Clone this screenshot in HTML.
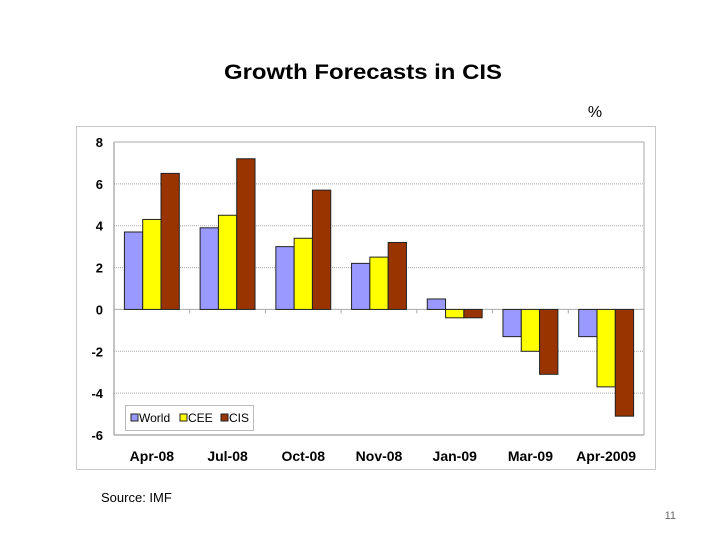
<!DOCTYPE html>
<html><head><meta charset="utf-8"><style>
body{margin:0;background:#fff;width:720px;height:540px;overflow:hidden;font-family:"Liberation Sans",Arial,sans-serif}
</style></head><body>
<svg width="720" height="540" font-family="Liberation Sans, Arial, sans-serif">
<text x="224" y="79" font-size="21" font-weight="bold" textLength="278" lengthAdjust="spacingAndGlyphs">Growth Forecasts in CIS</text>
<text x="595" y="117" font-size="16" text-anchor="middle">%</text>
<rect x="76.5" y="126.5" width="579" height="343" fill="#fff" stroke="#c8c8c8"/>
<g id="plot"></g>
<text x="101" y="502" font-size="13">Source: IMF</text>
<text x="676" y="519" font-size="11" fill="#666" text-anchor="end">11</text>
</svg>
<script>
const categories=["Apr-08","Jul-08","Oct-08","Nov-08","Jan-09","Mar-09","Apr-2009"];
const world=[3.7,3.9,3.0,2.2,0.5,-1.3,-1.3];
const cee=[4.3,4.5,3.4,2.5,-0.4,-2.0,-3.7];
const cis=[6.5,7.2,5.7,3.2,-0.4,-3.1,-5.1];
const yTicks=[8,6,4,2,0,-2,-4,-6];
const seriesNames=["World","CEE","CIS"];
const NS="http://www.w3.org/2000/svg";
const g=document.getElementById('plot');
const L=114,R=644,T=142,B=435,ymin=-6,ymax=8;
const y=v=>B-(v-ymin)/(ymax-ymin)*(B-T);
const bw=(R-L)/categories.length;
const x=i=>L+bw*i;
function mk(t,a){const e=document.createElementNS(NS,t);for(const k in a)e.setAttribute(k,a[k]);g.appendChild(e);return e;}
yTicks.forEach(v=>{
 if(v!==ymin&&v!==0){const l=mk('line',{x1:L,x2:R,y1:y(v),y2:y(v),stroke:'#aaa','stroke-dasharray':'1,1'});
 
 }
 const t=mk('text',{x:L-11,y:y(v)+5,'font-size':13,'font-weight':'bold','text-anchor':'end'});t.textContent=v;
 
 
});
const ax=mk('line',{x1:L,x2:L,y1:T,y2:B,stroke:'#888'});


const bx=mk('line',{x1:L,x2:R,y1:B,y2:B,stroke:'#888'});


const rx=mk('line',{x1:R,x2:R,y1:T,y2:B,stroke:'#aaa'});


const tx=mk('line',{x1:L,x2:R,y1:T,y2:T,stroke:'#aaa'});


const zero=mk('line',{x1:L,x2:R,y1:y(0),y2:y(0),stroke:'#aaa'});


const series=[world,cee,cis],colors=['#9999ff','#ffff00','#993300'];
const barW=18.3;
categories.forEach((c,i)=>{
 const cx=x(i)+bw/2;
 series.forEach((s,j)=>{
  const v=s[i];const y0=y(Math.max(v,0)),y1=y(Math.min(v,0));
  const r=mk('rect',{x:cx-barW*1.5+barW*j,y:y0,width:barW,height:Math.max(y1-y0,0.5),fill:colors[j],stroke:'#222','stroke-width':1});
  
  
 });
 const t=mk('text',{x:cx,y:461,'font-size':14,'font-weight':'bold','text-anchor':'middle'});t.textContent=c;
 
 
 if(i>0){const tk=mk('line',{x1:x(i),x2:x(i),y1:y(0),y2:y(0)+4,stroke:'#aaa'});
 
 }
});
const lb=mk('rect',{x:125.5,y:405.5,width:128,height:25,fill:'#fff',stroke:'#bbb'});


const lx=[131,180,221];
seriesNames.forEach((n,j)=>{
 const s=mk('rect',{x:lx[j],y:414,width:7,height:7,fill:colors[j],stroke:'#222'});
 
 
 const t=mk('text',{x:lx[j]+8,y:422,'font-size':12});t.textContent=n;
 
 
});
</script>
</body></html>
